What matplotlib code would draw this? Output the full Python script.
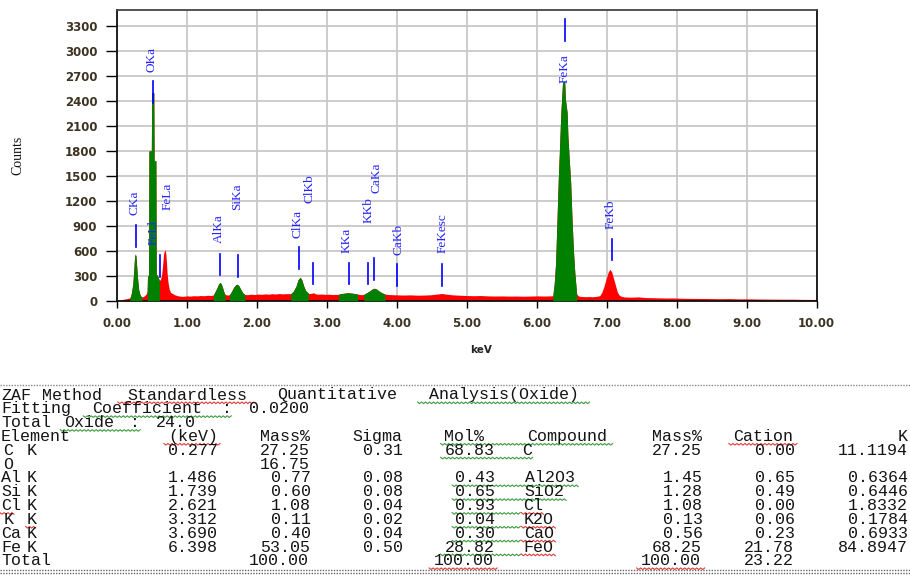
import re

import matplotlib

matplotlib.use("Agg")
import matplotlib.pyplot as plt
from matplotlib.lines import Line2D
import numpy as np

W, H = 910, 575

# EDS spectrum (keV, counts)
energy_kev = [
    0.00, 0.02, 0.05, 0.08, 0.11, 0.14, 0.17, 0.19, 0.21, 0.23, 0.245, 0.255,
    0.265, 0.275, 0.285, 0.30, 0.315, 0.33, 0.345, 0.36, 0.38, 0.40, 0.42,
    0.435, 0.44, 0.455, 0.46, 0.495, 0.50, 0.53, 0.535, 0.56, 0.565, 0.59,
    0.61, 0.625, 0.64, 0.655, 0.67, 0.685, 0.70, 0.71, 0.72, 0.735, 0.75,
    0.77, 0.80, 0.83, 0.87, 0.90, 0.95, 1.00, 1.05, 1.10, 1.15, 1.20, 1.25,
    1.30, 1.35, 1.38, 1.40, 1.43, 1.455, 1.475, 1.495, 1.515, 1.535, 1.547,
    1.57, 1.59, 1.61, 1.64, 1.67, 1.70, 1.72, 1.745, 1.77, 1.80, 1.83, 1.87,
    1.92, 1.97, 2.02, 2.07, 2.12, 2.17, 2.22, 2.27, 2.32, 2.37, 2.42, 2.486,
    2.52, 2.56, 2.59, 2.62, 2.645, 2.67, 2.70, 2.737, 2.76, 2.79, 2.81, 2.84,
    2.88, 2.93, 2.98, 3.03, 3.08, 3.13, 3.166, 3.20, 3.25, 3.30, 3.35, 3.40,
    3.44, 3.47, 3.50, 3.53, 3.57, 3.61, 3.65, 3.68, 3.71, 3.75, 3.79, 3.83,
    3.88, 3.95, 4.00, 4.10, 4.20, 4.30, 4.40, 4.50, 4.60, 4.65, 4.70, 4.80,
    4.90, 5.00, 5.10, 5.20, 5.30, 5.40, 5.50, 5.60, 5.70, 5.80, 5.90, 6.00,
    6.10, 6.20, 6.23, 6.25, 6.27, 6.29, 6.31, 6.325, 6.345, 6.37, 6.40, 6.41,
    6.435, 6.445, 6.465, 6.485, 6.505, 6.525, 6.545, 6.571, 6.60, 6.65, 6.70,
    6.75, 6.80, 6.85, 6.90, 6.93, 6.96, 6.99, 7.02, 7.045, 7.07, 7.09, 7.11,
    7.13, 7.15, 7.17, 7.20, 7.25, 7.35, 7.45, 7.55, 7.65, 7.75, 7.85, 7.95,
    8.05, 8.15, 8.30, 8.45, 8.60, 8.75, 8.90, 9.05, 9.20, 9.35, 9.50, 9.65,
    9.80, 10.00,
]
counts = [
    0, 2, 8, 14, 20, 24, 30, 35, 90, 200, 380, 520,
    560, 540, 420, 250, 130, 80, 55, 45, 50, 62, 80,
    110, 290, 310, 1800, 1800, 2500, 2500, 1680, 1680, 320, 290,
    240, 260, 300, 420, 560, 615, 580, 470, 330, 210, 140,
    100, 85, 70, 60, 55, 52, 58, 55, 60, 58, 62, 60,
    65, 63, 68, 100, 150, 200, 220, 200, 150, 95, 75,
    70, 68, 72, 110, 160, 190, 198, 180, 140, 95, 75, 72,
    78, 74, 80, 76, 82, 78, 84, 80, 86, 82, 85, 84,
    110, 170, 250, 282, 250, 180, 120, 90, 85, 90, 96, 82,
    78, 80, 76, 78, 74, 76, 76, 85, 90, 96, 92, 86,
    80, 74, 72, 76, 95, 115, 140, 150, 140, 115, 95, 80,
    74, 72, 70, 68, 70, 66, 68, 72, 82, 86, 80, 70,
    66, 62, 60, 62, 58, 56, 57, 55, 56, 54, 55, 58,
    56, 58, 60, 200, 450, 970, 1500, 1810, 2260, 2630, 2630, 2420,
    2260, 1990, 1700, 1430, 970, 600, 330, 80, 55, 50, 48,
    50, 47, 52, 60, 100, 170, 260, 340, 377, 350, 290, 230,
    170, 110, 75, 55, 45, 42, 46, 38, 36, 34, 32, 33,
    30, 28, 27, 26, 24, 25, 22, 22, 20, 19, 18, 18,
    16, 15,
]

# identified peaks are filled green
peak_windows = [
    (0.19, 0.36), (0.435, 0.61), (1.38, 1.547), (1.61, 1.83),
    (2.486, 2.737), (3.166, 3.44), (3.53, 3.83), (6.23, 6.571),
]

# line markers: name, marker energy, marker bottom/top, label energy, label base
marker_names = ["CKa", "OKa", "FeLl", "FeLa", "AlKa", "SiKa", "ClKa", "ClKb",
                "KKa", "KKb", "CaKa", "CaKb", "FeKesc", "FeKa", "FeKb"]
marker_kev = [0.271, 0.523, 0.619, None, 1.476, 1.737, 2.604, 2.81,
              3.318, 3.59, 3.68, 4.00, 4.643, 6.404, 7.07]
marker_low = [649, 2373, 288, None, 309, 288, 381, 197,
              197, 197, 249, 180, 180, 3123, 489]
marker_high = [909, 2639, 549, None, 561, 549, 641, 449,
               449, 449, 509, 437, 437, 3383, 741]
label_kev = [0.261, 0.50, 0.534, 0.733, 1.461, 1.723, 2.576, 2.761,
             3.286, 3.594, 3.714, 4.023, 4.651, 6.394, 7.057]
label_base = [1029, 2750, 669, 1089, 689, 1089, 749, 1170,
              569, 930, 1290, 549, 569, 2618, 858]

# quantitative table
header_lines = [
    "ZAF Method Standardless Quantitative Analysis(Oxide)",
    "Fitting Coefficient : 0.0200",
    "Total Oxide : 24.0",
]
column_titles = ["Element", "(keV)", "Mass%", "Sigma", "Mol%", "Compound",
                 "Mass%", "Cation", "K"]
element_symbols = ["C", "O", "Al", "Si", "Cl", "K", "Ca", "Fe"]
element_shells = ["K", "", "K", "K", "K", "K", "K", "K"]
line_energy = ["0.277", "", "1.486", "1.739", "2.621", "3.312", "3.690", "6.398"]
mass_pct = ["27.25", "16.75", "0.77", "0.60", "1.08", "0.11", "0.40", "53.05"]
sigma = ["0.31", "", "0.08", "0.08", "0.04", "0.02", "0.04", "0.50"]
mol_pct = ["68.83", "", "0.43", "0.65", "0.93", "0.04", "0.30", "28.82"]
compounds = ["C", "", "Al2O3", "SiO2", "Cl", "K2O", "CaO", "FeO"]
compound_mass = ["27.25", "", "1.45", "1.28", "1.08", "0.13", "0.56", "68.25"]
cation = ["0.00", "", "0.65", "0.49", "0.00", "0.06", "0.23", "21.78"]
k_ratio = ["11.1194", "", "0.6364", "0.6446", "1.8332", "0.1784", "0.6933", "84.8947"]
totals = {"mass": "100.00", "mol": "100.00", "cmass": "100.00", "cation": "23.22"}


def px(x, y):
    return x / W, 1 - y / H


fig = plt.figure(figsize=(W / 100, H / 100), dpi=100)
ax = fig.add_axes([116.7 / W, 1 - 300.7 / H, 700 / W, 290.7 / H])

e = np.asarray(energy_kev)
c = np.asarray(counts)
ax.fill_between(e, 0, c, color="#ff0000", lw=0, zorder=2)
for lo, hi in peak_windows:
    m = (e >= lo - 1e-9) & (e <= hi + 1e-9)
    ax.fill_between(e[m], 0, c[m], color="#008000", lw=0, zorder=3)

for name, mk, lo, hi, lk, lb in zip(marker_names, marker_kev, marker_low,
                                    marker_high, label_kev, label_base):
    if mk is not None:
        ax.plot([mk, mk], [lo, hi], color="#0000ff", lw=1.2, zorder=4)
    ax.text(lk, lb, name, rotation=90, ha="center", va="bottom",
            family="Liberation Serif", fontsize=9.5, color="#2424ff", zorder=5)

ax.set_xlim(0, 10)
ax.set_ylim(0, 3492)
ax.set_xticks(range(11))
ax.set_xticklabels([f"{v:.2f}" for v in range(11)])
ax.set_yticks(range(0, 3301, 300))
ax.grid(True, color="#c8c8c8", lw=1.3)
ax.set_axisbelow(True)
for s in ax.spines.values():
    s.set_linewidth(1.3)
    s.set_color("#111111")
ax.spines["top"].set_color("#444444")
tick_color = "#3d3323"
for lab in ax.get_xticklabels() + ax.get_yticklabels():
    lab.set_fontweight("bold")
ax.tick_params(axis="y", length=8, width=1, pad=6, labelsize=8.5,
               labelcolor=tick_color)
ax.tick_params(axis="x", length=5, width=1, pad=7, labelsize=8.5,
               labelcolor=tick_color)

fig.text(*px(18, 155), "Counts", rotation=90, ha="center", va="center",
         family="Liberation Serif", fontsize=10, color="#111111")
fig.text(*px(481, 350), "keV", ha="center", va="center", fontsize=7.5,
         fontweight="bold", color="#222222")

# ---- text report below the spectrum ----
col_w = 11.53
col_x0 = -9.0
row_y0 = 395.0
row_h = 13.83
mono_size = 12
mono_adv = mono_size * 100 / 72 * 0.6


def col_x(col):
    return col_x0 + col * col_w


rows = [list(" " * 84) for _ in range(13)]


def put(r, col, s, right=False):
    if right:
        col = col - len(s) + 1
    for i, ch in enumerate(s):
        rows[r][col + i] = ch


for i, line in enumerate(header_lines):
    put(i, 0, line)
for title, col in zip(column_titles, [0, 15, 23, 31, 39, 46, 57, 64, 79]):
    put(3, col, title)
for i in range(len(element_symbols)):
    r = 4 + i
    put(r, 1, element_symbols[i], right=True)
    put(r, 3, element_shells[i])
    put(r, 19, line_energy[i], right=True)
    put(r, 27, mass_pct[i], right=True)
    put(r, 35, sigma[i], right=True)
    put(r, 43, mol_pct[i], right=True)
    put(r, 46, compounds[i])
    put(r, 61, compound_mass[i], right=True)
    put(r, 69, cation[i], right=True)
    put(r, 79, k_ratio[i], right=True)
put(12, 0, "Total")
put(12, 27, totals["mass"], right=True)
put(12, 43, totals["mol"], right=True)
put(12, 61, totals["cmass"], right=True)
put(12, 69, totals["cation"], right=True)

for r, chars in enumerate(rows):
    line = "".join(chars)
    y = row_y0 + r * row_h
    for m in re.finditer(r"\S+", line):
        tok = m.group()
        # centre each word on its place in the wider screen font
        x = col_x(m.start()) + len(tok) * (col_w - mono_adv) / 2
        x = min(max(x, 1.0), W - 2.0 - len(tok) * mono_adv)
        fig.text(*px(x, y), tok, ha="left", va="center",
                 family="Liberation Mono", fontsize=mono_size, color="#141414")

# spell-check squiggles (row, first col, last col, colour)
squiggles = [
    (0, 11, 22, "r"), (0, 37, 51, "g"), (1, 8, 20, "g"), (2, 6, 12, "g"),
    (3, 15, 19, "r"), (3, 39, 53, "g"), (3, 64, 69, "r"), (4, 39, 46, "g"),
    (6, 40, 50, "g"), (7, 40, 49, "g"), (8, 0, 1, "r"), (8, 40, 45, "g"),
    (8, 46, 47, "r"), (9, 3, 3, "r"), (9, 40, 45, "g"), (9, 46, 48, "r"),
    (10, 40, 45, "g"), (10, 46, 48, "r"), (11, 39, 45, "g"), (11, 46, 48, "r"),
    (12, 38, 43, "r"), (12, 56, 61, "r"),
]
sq_colors = {"r": "#e23a3a", "g": "#3c9c3c"}
for r, c0, c1, col in squiggles:
    xs = np.arange(max(col_x(c0), 0), col_x(c1 + 1), 2.0)
    ys = row_y0 + r * row_h + 7 + np.where(np.arange(len(xs)) % 2 == 0, 0, 1.6)
    fig.add_artist(Line2D(xs / W, 1 - ys / H, color=sq_colors[col], lw=0.8))

# dotted frame lines of the report box
fig.add_artist(Line2D([0, 1], [1 - 385 / H] * 2, color="#888888", lw=1,
                      ls=(0, (1, 1))))
fig.add_artist(Line2D([0, 1], [1 - 569.5 / H] * 2, color="#666666", lw=1,
                      ls=(0, (1, 1))))
fig.add_artist(Line2D([0, 1], [1 - 572.5 / H] * 2, color="#666666", lw=1,
                      ls=(0, (1, 1))))

fig.savefig("out.png", dpi=100)
